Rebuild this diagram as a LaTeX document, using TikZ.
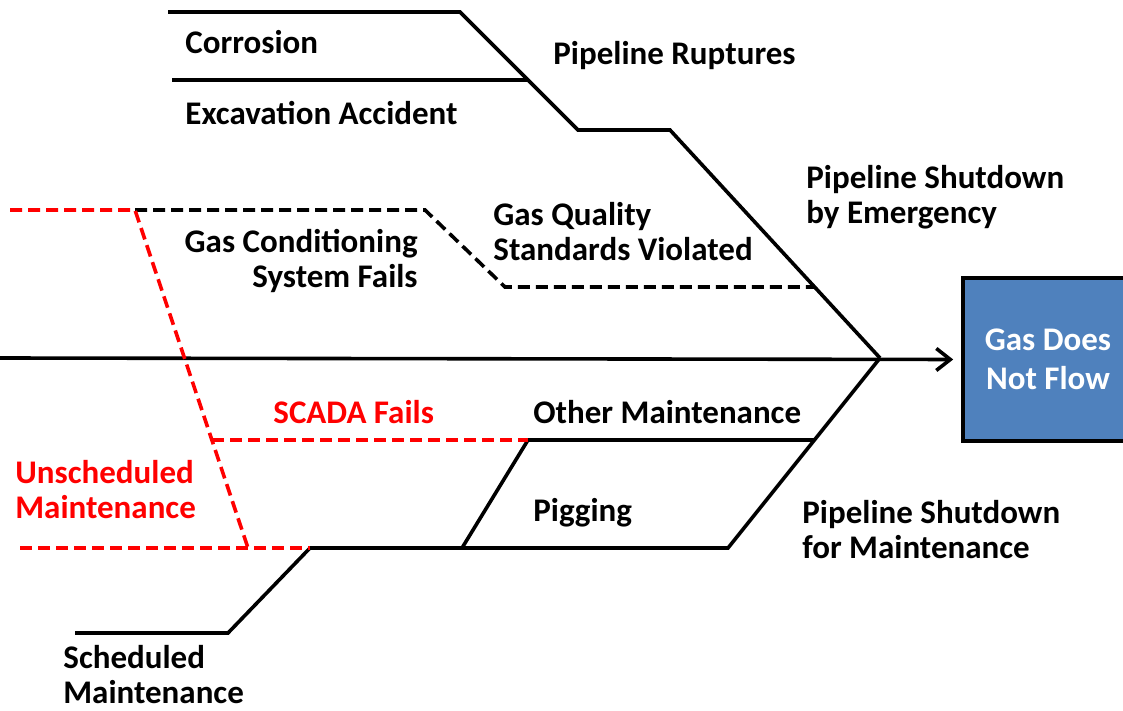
\documentclass[tikz,border=0pt]{standalone}
\usepackage{fontspec}
\setmainfont{Carlito}
\usetikzlibrary{arrows.meta}
\definecolor{boxblue}{HTML}{4F81BD}
\definecolor{faultred}{HTML}{FF0000}

\begin{document}
\begin{tikzpicture}[x=0.5pt,y=-0.5pt,
  bone/.style={line width=1.8pt,line join=miter},
  dashbone/.style={bone,dash pattern=on 6pt off 3pt},
  redbone/.style={dashbone,faultred},
  cause/.style={font=\bfseries\fontsize{16.5}{17.5}\selectfont,inner sep=0pt,anchor=west,align=left},
  redcause/.style={cause,text=faultred},
  effect/.style={draw=black,line width=1.8pt,fill=boxblue,text=white,
    minimum width=85pt,minimum height=81.5pt,align=center,
    font=\bfseries\fontsize{16.5}{19.5}\selectfont}]

  \useasboundingbox (0,0) rectangle (1123,711);
  \clip (0,0) rectangle (1123,711); % the box runs off the page

  % head of the fish
  \node[effect] (effect) at (1048,359.5) {Gas Does\\Not Flow};
  \coordinate (tail) at (0,358);
  \coordinate (hub)  at (880,358);
  \draw[bone,-{Straight Barb[length=7pt,width=11pt,line width=1.8pt]},shorten >=4pt] (tail) -- (effect.west);

  % emergency bone
  \coordinate (r1) at (168,12);
  \coordinate (r2) at (460,12);
  \coordinate (r3) at (578,130);
  \coordinate (r4) at (670,130);
  \coordinate (e1) at (172,80);
  \coordinate (e2) at (528,80);
  \draw[bone] (r1) -- (r2) -- (r3) -- (r4) -- (hub);
  \draw[bone] (e1) -- (e2);

  \coordinate (q1) at (135,210);
  \coordinate (q2) at (425,210);
  \coordinate (q3) at (505,287);
  \coordinate (q4) at (815,287);
  \draw[dashbone] (q1) -- (q2) -- (q3) -- (q4);

  % maintenance bone
  \coordinate (m1) at (728,548);
  \coordinate (p1) at (462,548);
  \coordinate (k1) at (310,548);
  \coordinate (k2) at (228,633);
  \coordinate (k3) at (75,633);
  \coordinate (o1) at (528,440);
  \coordinate (o2) at (814,440);
  \draw[bone] (hub) -- (m1) -- (p1) -- (k1) -- (k2) -- (k3);
  \draw[bone] (p1) -- (o1) -- (o2);

  % unscheduled maintenance (red)
  \coordinate (u0) at (10,210);
  \coordinate (u1) at (212,440);
  \coordinate (u2) at (248,548);
  \coordinate (u3) at (20,548);
  \draw[redbone] (u0) -- (q1) -- (u2);
  \draw[redbone] (u1) -- (o1);
  \draw[redbone] (u3) -- (k1);

  % labels
  \node[cause] (corr) at (185,42) {Corrosion};
  \node[cause] (exc) at (185,113) {Excavation Accident};
  \node[cause] (rupt) at (553,56) {Pipeline Ruptures};
  \node[cause] (emer) at (806,197) {Pipeline Shutdown\\by Emergency};
  \node[cause] (qual) at (493,232) {Gas Quality\\Standards Violated};
  \node[cause,anchor=east,align=right] (cond) at (418,261) {Gas Conditioning\\System Fails};
  \node[redcause] (scada) at (273,412) {SCADA Fails};
  \node[cause] (other) at (533,412) {Other Maintenance};
  \node[redcause] (unsch) at (15,490) {Unscheduled\\Maintenance};
  \node[cause] (pig) at (533,513) {Pigging};
  \node[cause] (maint) at (802,530) {Pipeline Shutdown\\for Maintenance};
  \node[cause] (sched) at (63,675) {Scheduled\\Maintenance};

\end{tikzpicture}
\end{document}
